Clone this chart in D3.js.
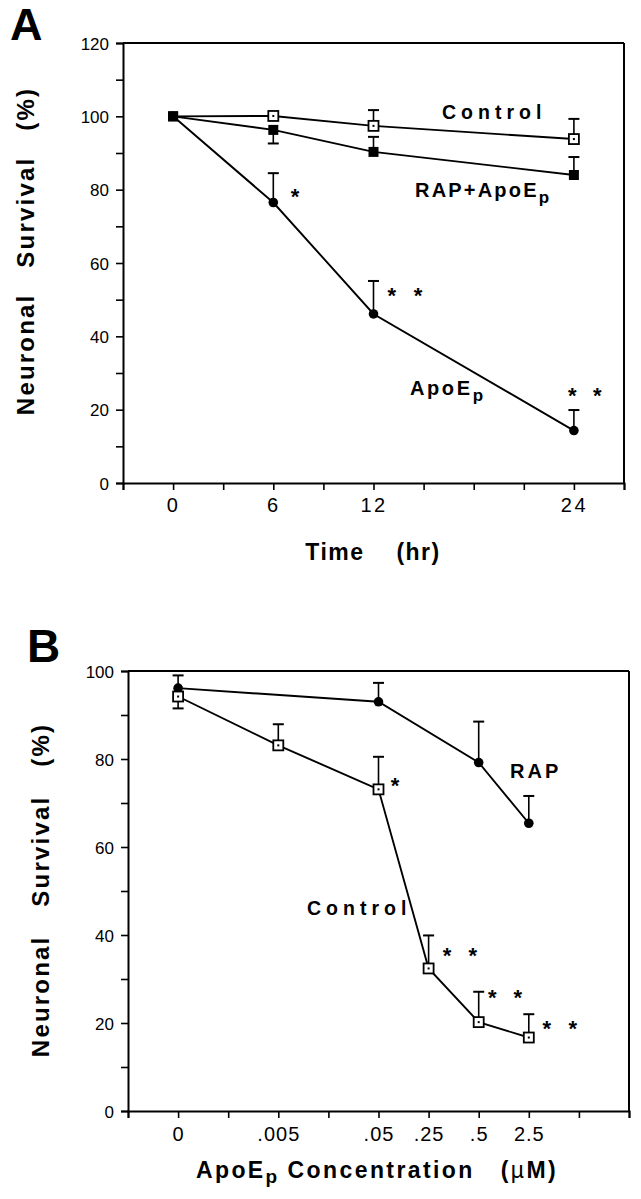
<!DOCTYPE html>
<html><head><meta charset="utf-8">
<script src="https://cdn.jsdelivr.net/npm/d3@7"></script>
<style>body{margin:0;background:#fff}svg{display:block}</style>
</head><body>
<script>
// ---------- Panel A data ----------
const timeHours = [0, 6, 12, 24];
const controlA = [100, 100.1, 97.4, 93.8];
const controlAErr = [null, null, 101.7, 99.3];
const rapApoA = [100, 96.3, 90.3, 84.0];
const rapApoAErr = [null, 92.6, 94.4, 88.9];
const apoA = [100, 76.5, 46.1, 14.3];
const apoAErr = [null, 84.5, 55.1, 19.9];
const timeTickLabels = [0, 6, 12, 24];
const yTickLabelsA = [0, 20, 40, 60, 80, 100, 120];
const sigA_t = [7.3, 13.1, 14.66, 23.9, 25.4];
const sigA_v = [79.4, 52.6, 52.6, 25.1, 25.1];

// ---------- Panel B data ----------
const concLabels = ["0", ".005", ".05", ".25", ".5", "2.5"];
const controlB = [94.2, 83.1, 73.1, 32.4, 20.2, 16.7];
const controlBErr = [91.5, 87.9, 80.5, 39.9, 27.1, 22.0];
const rapConc = ["0", ".05", ".5", "2.5"];
const rapB = [96.1, 93.0, 79.2, 65.4];
const rapBErr = [99.0, 97.3, 88.5, 71.6];
const yTickLabelsB = [0, 20, 40, 60, 80, 100];
const sigB_c = [".05", ".25", ".25", ".5", ".5", "2.5", "2.5"];
const sigB_off = [0.33, 0.37, 0.88, 0.27, 0.78, 0.36, 0.88];
const sigB_v = [75.2, 36.4, 36.4, 27.0, 27.0, 19.8, 19.8];

const W = 641, H = 1199;
const FONT = "'Liberation Sans', Arial, Helvetica, sans-serif";
const svg = d3.select("body").append("svg").attr("width", W).attr("height", H)
  .style("font-family", FONT);

function styleAxis(g) {
  g.attr("font-family", FONT);
  g.selectAll("path.domain").attr("stroke", "#000").attr("stroke-width", 2);
  g.selectAll(".tick line").attr("stroke", "#000").attr("stroke-width", 1.6);
  g.selectAll(".tick text").attr("fill", "#000");
}

function drawMarker(g, type, x, y) {
  if (type === "open") {
    g.append("rect").attr("x", x - 5).attr("y", y - 5).attr("width", 10).attr("height", 10)
      .attr("fill", "#fff").attr("stroke", "#000").attr("stroke-width", 1.8);
    g.append("rect").attr("x", x - 1).attr("y", y - 1).attr("width", 2).attr("height", 2).attr("fill", "#000");
  } else if (type === "fsq") {
    g.append("rect").attr("x", x - 5).attr("y", y - 5).attr("width", 10).attr("height", 10).attr("fill", "#000");
  } else {
    g.append("circle").attr("cx", x).attr("cy", y).attr("r", 4.8).attr("fill", "#000");
  }
}

function errBar(g, x, y0, y1) {
  g.append("line").attr("x1", x).attr("x2", x).attr("y1", y0).attr("y2", y1)
    .attr("stroke", "#000").attr("stroke-width", 1.6);
  g.append("line").attr("x1", x - 5.5).attr("x2", x + 5.5).attr("y1", y1).attr("y2", y1)
    .attr("stroke", "#000").attr("stroke-width", 2);
}

function star(g, x, y) {
  g.append("text").attr("x", x).attr("y", y + 12.5).attr("text-anchor", "middle")
    .attr("font-size", 22).attr("font-weight", "bold").text("*");
}

function labelSub(g, x, y, main, sub, fs, ls, anchor) {
  const t = g.append("text").attr("x", x).attr("y", y).attr("font-size", fs)
    .attr("font-weight", "bold").attr("letter-spacing", ls).attr("text-anchor", anchor || "start");
  t.append("tspan").text(main);
  if (sub) t.append("tspan").attr("dy", fs * 0.28).attr("font-size", fs * 0.85).text(sub);
  return t;
}

// ================= Panel A =================
const xA = d3.scaleLinear().domain([-3, 27]).range([123, 624]);
const yA = d3.scaleLinear().domain([0, 120]).range([483, 43]);
const gA = svg.append("g");

gA.append("line").attr("x1", xA(-3)).attr("x2", xA(27)).attr("y1", yA(120)).attr("y2", yA(120))
  .attr("stroke", "#000").attr("stroke-width", 2);
gA.append("line").attr("x1", xA(27)).attr("x2", xA(27)).attr("y1", yA(120)).attr("y2", yA(0))
  .attr("stroke", "#000").attr("stroke-width", 2);

const yAxisA = gA.append("g").attr("transform", `translate(${xA(-3)},0)`)
  .call(d3.axisLeft(yA).tickValues(d3.range(0, 121, 10)).tickSizeOuter(0)
    .tickSize(7).tickPadding(7)
    .tickFormat(d => yTickLabelsA.includes(d) ? d : ""));
styleAxis(yAxisA);
yAxisA.selectAll(".tick text").attr("font-size", 17).attr("dy", "0.36em");

const xAxisA = gA.append("g").attr("transform", `translate(0,${yA(0)})`)
  .call(d3.axisBottom(xA).tickValues(d3.range(-3, 28, 3)).tickSizeOuter(0)
    .tickSize(7).tickPadding(8)
    .tickFormat(d => timeTickLabels.includes(d) ? d : ""));
styleAxis(xAxisA);
xAxisA.selectAll(".tick text").attr("font-size", 20).attr("letter-spacing", 2.5);

const lineA = d3.line().x((d, i) => xA(timeHours[i])).y(d => yA(d));
[controlA, rapApoA, apoA].forEach(s => {
  gA.append("path").attr("d", lineA(s)).attr("fill", "none").attr("stroke", "#000").attr("stroke-width", 1.9);
});
[[controlA, controlAErr], [rapApoA, rapApoAErr], [apoA, apoAErr]].forEach(([s, e]) => {
  s.forEach((v, i) => { if (e[i] != null) errBar(gA, xA(timeHours[i]), yA(v), yA(e[i])); });
});
apoA.forEach((v, i) => drawMarker(gA, "circle", xA(timeHours[i]), yA(v)));
rapApoA.forEach((v, i) => drawMarker(gA, "fsq", xA(timeHours[i]), yA(v)));
controlA.forEach((v, i) => drawMarker(gA, i === 0 ? "fsq" : "open", xA(timeHours[i]), yA(v)));
sigA_t.forEach((t, i) => star(gA, xA(t), yA(sigA_v[i])));

labelSub(gA, 442, 119, "Control", null, 19.5, 5);
labelSub(gA, 415, 197, "RAP+ApoE", "p", 20, 2.2);
labelSub(gA, 410, 395, "ApoE", "p", 20, 2.6);

gA.append("text").attr("x", 10).attr("y", 40).attr("font-size", 45).attr("font-weight", "bold").text("A");
gA.append("text").attr("transform", `translate(34,251) rotate(-90)`).attr("text-anchor", "middle")
  .attr("font-size", 24).attr("font-weight", "bold").attr("letter-spacing", 2.2).attr("word-spacing", 17)
  .text("Neuronal Survival (%)");
gA.append("text").attr("x", 373).attr("y", 560).attr("text-anchor", "middle")
  .attr("font-size", 23).attr("font-weight", "bold").attr("letter-spacing", 1.5).attr("word-spacing", 24)
  .text("Time (hr)");

// ================= Panel B =================
const slot = d3.scaleOrdinal().domain(concLabels).range([1, 3, 5, 6, 7, 8]);
const xB = d3.scaleLinear().domain([0, 10]).range([128, 629]);
const yB = d3.scaleLinear().domain([0, 100]).range([1111, 671]);
const gB = svg.append("g");

gB.append("line").attr("x1", xB(0)).attr("x2", xB(10)).attr("y1", yB(100)).attr("y2", yB(100))
  .attr("stroke", "#000").attr("stroke-width", 2);
gB.append("line").attr("x1", xB(10)).attr("x2", xB(10)).attr("y1", yB(100)).attr("y2", yB(0))
  .attr("stroke", "#000").attr("stroke-width", 2);

const yAxisB = gB.append("g").attr("transform", `translate(${xB(0)},0)`)
  .call(d3.axisLeft(yB).tickValues(d3.range(0, 101, 10)).tickSizeOuter(0)
    .tickSize(7).tickPadding(7)
    .tickFormat(d => yTickLabelsB.includes(d) ? d : ""));
styleAxis(yAxisB);
yAxisB.selectAll(".tick text").attr("font-size", 17).attr("dy", "0.36em");

const xAxisB = gB.append("g").attr("transform", `translate(0,${yB(0)})`)
  .call(d3.axisBottom(xB).tickValues(d3.range(0, 11, 1)).tickSizeOuter(0)
    .tickSize(7).tickPadding(9)
    .tickFormat(d => { const k = concLabels.find(c => slot(c) === d); return k === undefined ? "" : k; }));
styleAxis(xAxisB);
xAxisB.selectAll(".tick text").attr("font-size", 20).attr("letter-spacing", 1);

const lineBc = d3.line().x((d, i) => xB(slot(concLabels[i]))).y(d => yB(d));
const lineBr = d3.line().x((d, i) => xB(slot(rapConc[i]))).y(d => yB(d));
gB.append("path").attr("d", lineBr(rapB)).attr("fill", "none").attr("stroke", "#000").attr("stroke-width", 1.9);
gB.append("path").attr("d", lineBc(controlB)).attr("fill", "none").attr("stroke", "#000").attr("stroke-width", 1.9);
rapB.forEach((v, i) => errBar(gB, xB(slot(rapConc[i])), yB(v), yB(rapBErr[i])));
controlB.forEach((v, i) => errBar(gB, xB(slot(concLabels[i])), yB(v), yB(controlBErr[i])));
rapB.forEach((v, i) => drawMarker(gB, "circle", xB(slot(rapConc[i])), yB(v)));
controlB.forEach((v, i) => drawMarker(gB, "open", xB(slot(concLabels[i])), yB(v)));
sigB_c.forEach((c, i) => star(gB, xB(slot(c) + sigB_off[i]), yB(sigB_v[i])));

labelSub(gB, 510, 778, "RAP", null, 20, 3);
labelSub(gB, 307, 915, "Control", null, 19.5, 5);

gB.append("text").attr("x", 27).attr("y", 662).attr("font-size", 46).attr("font-weight", "bold").text("B");
gB.append("text").attr("transform", `translate(49,890) rotate(-90)`).attr("text-anchor", "middle")
  .attr("font-size", 24).attr("font-weight", "bold").attr("letter-spacing", 2.2).attr("word-spacing", 20)
  .text("Neuronal Survival (%)");
const tB = gB.append("text").attr("x", 377).attr("y", 1178).attr("text-anchor", "middle")
  .attr("font-size", 23).attr("font-weight", "bold").attr("letter-spacing", 2.4);
tB.append("tspan").text("ApoE");
tB.append("tspan").attr("dy", 5).attr("font-size", 19).text("p");
tB.append("tspan").attr("dy", -5).attr("dx", 8).text("Concentration");
tB.append("tspan").attr("dx", 26).text("(");
tB.append("tspan").attr("font-weight", "normal").text("\u00B5");
tB.append("tspan").text("M)");
</script>
</body></html>
